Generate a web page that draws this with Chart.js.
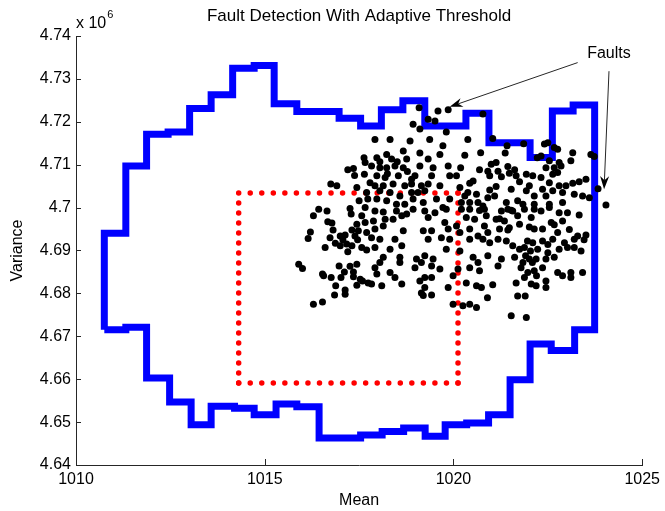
<!DOCTYPE html>
<html>
<head>
<meta charset="utf-8">
<script src="https://cdn.jsdelivr.net/npm/chart.js@4/dist/chart.umd.min.js"></script>
<style>
  html, body { margin: 0; padding: 0; background: #fff; }
</style>
</head>
<body>
<canvas id="graphCanvas" width="665" height="511"></canvas>
<script>
const FONT = '"Liberation Sans", Arial, Helvetica, sans-serif';

// axis ticks (variance in units of 10^6)
const xTicks = [1010, 1015, 1020, 1025];
const yTicks = [4.64, 4.65, 4.66, 4.67, 4.68, 4.69, 4.70, 4.71, 4.72, 4.73, 4.74];

// adaptive threshold boundary (mean, variance x 10^6)
const thresholdBoundary = [
    [1010.75, 4.6715], [1010.75, 4.6940], [1011.32, 4.6940], [1011.32, 4.7097], [1011.87, 4.7097],
    [1011.87, 4.7171], [1012.44, 4.7171], [1012.44, 4.7176], [1013.01, 4.7176], [1013.01, 4.7231],
    [1013.58, 4.7231], [1013.58, 4.7263], [1014.15, 4.7263], [1014.15, 4.7325], [1014.72, 4.7325],
    [1014.72, 4.7331], [1015.25, 4.7331], [1015.25, 4.7242], [1015.85, 4.7242], [1015.85, 4.7224],
    [1016.97, 4.7224], [1016.97, 4.7208], [1017.54, 4.7208], [1017.54, 4.7190], [1018.09, 4.7190],
    [1018.09, 4.7228], [1018.66, 4.7228], [1018.66, 4.7249], [1019.24, 4.7249], [1019.24, 4.7190],
    [1020.33, 4.7190], [1020.33, 4.7220], [1020.94, 4.7220], [1020.94, 4.7151], [1022.03, 4.7151],
    [1022.03, 4.7117], [1022.62, 4.7117], [1022.62, 4.7225], [1023.17, 4.7225], [1023.17, 4.7239],
    [1023.74, 4.7239], [1023.74, 4.6715], [1023.21, 4.6715], [1023.21, 4.6667], [1022.59, 4.6667],
    [1022.59, 4.6682], [1022.03, 4.6682], [1022.03, 4.6599], [1021.50, 4.6599], [1021.50, 4.6517],
    [1020.93, 4.6517], [1020.93, 4.6498], [1020.35, 4.6498], [1020.35, 4.6494], [1019.78, 4.6494],
    [1019.78, 4.6467], [1019.25, 4.6467], [1019.25, 4.6486], [1018.68, 4.6486], [1018.68, 4.6478],
    [1018.11, 4.6478], [1018.11, 4.6470], [1017.54, 4.6470], [1017.54, 4.6463], [1016.44, 4.6463],
    [1016.44, 4.6536], [1015.85, 4.6536], [1015.85, 4.6542], [1015.30, 4.6542], [1015.30, 4.6517],
    [1014.72, 4.6517], [1014.72, 4.6532], [1014.20, 4.6532], [1014.20, 4.6537], [1013.58, 4.6537],
    [1013.58, 4.6494], [1013.05, 4.6494], [1013.05, 4.6547], [1012.48, 4.6547], [1012.48, 4.6603],
    [1011.87, 4.6603], [1011.87, 4.6721], [1011.32, 4.6721], [1011.32, 4.6715], [1010.75, 4.6715]
];

// nominal (fixed) threshold box
const nominalBox = [
    [1014.31, 4.7034], [1020.12, 4.7034], [1020.12, 4.6591], [1014.31, 4.6591], [1014.31, 4.7034]
];

// measured samples (mean, variance x 10^6)
const samples = [
    [1017.63, 4.7116], [1017.66, 4.7105], [1017.20, 4.7088], [1017.35, 4.7091], [1017.38, 4.7075],
    [1017.64, 4.7078], [1016.75, 4.7055], [1016.91, 4.7051], [1017.44, 4.7047], [1017.70, 4.7035],
    [1017.50, 4.7016], [1017.73, 4.7020], [1016.43, 4.6996], [1016.65, 4.6992], [1017.26, 4.6998],
    [1017.66, 4.7000], [1016.29, 4.6981], [1017.29, 4.6985], [1017.57, 4.6981], [1016.67, 4.6967],
    [1016.78, 4.6964], [1017.44, 4.6961], [1017.66, 4.6965], [1017.31, 4.6948], [1016.21, 4.6943],
    [1017.48, 4.6946], [1017.70, 4.6942], [1016.15, 4.6928], [1016.73, 4.6930], [1017.00, 4.6934],
    [1017.13, 4.6936], [1017.39, 4.6934], [1016.87, 4.6917], [1017.00, 4.6911], [1017.17, 4.6915],
    [1017.31, 4.6911], [1016.60, 4.6907], [1017.57, 4.6907], [1017.70, 4.6901], [1015.90, 4.6868],
    [1016.00, 4.6858], [1016.97, 4.6864], [1017.26, 4.6863], [1017.44, 4.6868], [1016.53, 4.6845],
    [1016.56, 4.6841], [1017.11, 4.6850], [1017.35, 4.6850], [1016.76, 4.6837], [1017.02, 4.6837],
    [1017.35, 4.6839], [1017.53, 4.6833], [1017.59, 4.6829], [1016.88, 4.6818], [1017.44, 4.6819],
    [1017.13, 4.6808], [1016.85, 4.6796], [1017.13, 4.6798], [1016.53, 4.6780], [1016.29, 4.6775],
    [1017.74, 4.6824], [1016.81, 4.6948], [1017.07, 4.6925], [1017.46, 4.6925], [1017.20, 4.6897],
    [1019.09, 4.7233], [1019.59, 4.7225], [1019.86, 4.7228], [1019.33, 4.7206], [1019.51, 4.7202],
    [1018.93, 4.7194], [1019.11, 4.7183], [1019.81, 4.7176], [1017.92, 4.7159], [1018.32, 4.7159],
    [1018.85, 4.7155], [1019.72, 4.7144], [1019.37, 4.7159], [1019.11, 4.7127], [1018.67, 4.7132],
    [1017.97, 4.7116], [1018.23, 4.7124], [1018.36, 4.7113], [1018.76, 4.7113], [1019.33, 4.7113],
    [1019.64, 4.7124], [1019.86, 4.7097], [1018.05, 4.7093], [1018.23, 4.7093], [1018.45, 4.7097],
    [1018.67, 4.7093], [1019.11, 4.7097], [1019.46, 4.7093], [1017.97, 4.7074], [1018.19, 4.7070],
    [1018.54, 4.7074], [1018.89, 4.7066], [1019.42, 4.7074], [1019.90, 4.7074], [1017.92, 4.7051],
    [1018.14, 4.7051], [1018.40, 4.7055], [1018.71, 4.7051], [1018.89, 4.7055], [1019.15, 4.7051],
    [1019.33, 4.7055], [1019.64, 4.7051], [1018.32, 4.7035], [1018.89, 4.7035], [1019.06, 4.7035],
    [1017.97, 4.7020], [1018.23, 4.7016], [1018.49, 4.7008], [1018.71, 4.7008], [1018.93, 4.7020],
    [1019.20, 4.7012], [1019.55, 4.7020], [1019.90, 4.7020], [1018.93, 4.6996], [1019.72, 4.7000],
    [1017.83, 4.7097], [1018.05, 4.7107], [1018.25, 4.7079], [1018.51, 4.7107], [1018.78, 4.7084],
    [1018.98, 4.7074], [1019.24, 4.7039], [1018.58, 4.7027], [1018.05, 4.7039], [1017.79, 4.7058],
    [1017.92, 4.6992], [1018.14, 4.6990], [1018.49, 4.6992], [1018.76, 4.6985], [1019.24, 4.6992],
    [1019.51, 4.6988], [1019.81, 4.6996], [1017.88, 4.6969], [1018.19, 4.6973], [1018.40, 4.6973],
    [1018.63, 4.6981], [1019.33, 4.6977], [1019.77, 4.6965], [1017.92, 4.6950], [1018.14, 4.6957],
    [1018.67, 4.6946], [1019.20, 4.6946], [1019.42, 4.6946], [1019.86, 4.6950], [1017.83, 4.6930],
    [1018.05, 4.6926], [1018.45, 4.6926], [1019.33, 4.6926], [1019.68, 4.6930], [1019.90, 4.6926],
    [1017.92, 4.6907], [1018.32, 4.6903], [1018.63, 4.6911], [1019.81, 4.6903], [1018.14, 4.6884],
    [1018.58, 4.6884], [1019.02, 4.6880], [1019.24, 4.6888], [1019.46, 4.6880], [1018.05, 4.6872],
    [1018.58, 4.6872], [1019.15, 4.6872], [1017.92, 4.6860], [1018.98, 4.6860], [1019.42, 4.6864],
    [1019.64, 4.6857], [1017.97, 4.6845], [1018.32, 4.6849], [1018.45, 4.6837], [1019.24, 4.6837],
    [1019.42, 4.6837], [1019.99, 4.6841], [1017.83, 4.6822], [1018.10, 4.6818], [1018.63, 4.6822],
    [1019.11, 4.6829], [1019.24, 4.6814], [1019.86, 4.6814], [1019.15, 4.6801], [1019.20, 4.6795],
    [1019.42, 4.6796], [1019.99, 4.6775],
    [1020.78, 4.7218], [1021.04, 4.7161], [1021.42, 4.7144], [1021.86, 4.7149], [1022.22, 4.7116],
    [1020.38, 4.7159], [1020.72, 4.7128], [1020.30, 4.7122], [1021.37, 4.7127], [1020.19, 4.7093],
    [1021.00, 4.7101], [1021.13, 4.7105], [1020.69, 4.7088], [1020.91, 4.7085], [1021.18, 4.7085],
    [1021.44, 4.7096], [1021.62, 4.7088], [1021.93, 4.7078], [1022.10, 4.7074], [1020.08, 4.7074],
    [1020.52, 4.7062], [1020.43, 4.7057], [1020.96, 4.7074], [1021.27, 4.7072], [1021.48, 4.7080],
    [1021.66, 4.7074], [1021.75, 4.7060], [1022.01, 4.7051], [1020.17, 4.7047], [1020.38, 4.7035],
    [1020.61, 4.7031], [1020.96, 4.7041], [1021.13, 4.7049], [1021.53, 4.7043], [1021.93, 4.7039],
    [1022.14, 4.7027], [1020.21, 4.7012], [1020.43, 4.7012], [1020.65, 4.7012], [1020.91, 4.7023],
    [1021.40, 4.7012], [1021.70, 4.7016], [1021.84, 4.7008], [1022.14, 4.7008], [1020.43, 4.6996],
    [1020.82, 4.6996], [1021.44, 4.6996], [1021.88, 4.6996], [1020.21, 4.6996], [1020.69, 4.6993],
    [1021.27, 4.6992], [1021.53, 4.6994], [1022.14, 4.6996], [1020.34, 4.6977], [1020.56, 4.6973],
    [1020.87, 4.6981], [1021.13, 4.6973], [1021.35, 4.6969], [1021.70, 4.6981], [1022.06, 4.6977],
    [1020.08, 4.6957], [1020.43, 4.6950], [1020.82, 4.6957], [1020.91, 4.6942], [1021.22, 4.6950],
    [1021.48, 4.6953], [1021.75, 4.6961], [1022.14, 4.6950], [1020.17, 4.6942], [1020.65, 4.6934],
    [1020.78, 4.6926], [1020.96, 4.6918], [1021.18, 4.6926], [1021.40, 4.6922], [1021.57, 4.6911],
    [1021.88, 4.6907], [1022.10, 4.6918], [1022.23, 4.6903], [1020.17, 4.6899], [1020.52, 4.6884],
    [1020.65, 4.6872], [1020.91, 4.6888], [1021.27, 4.6880], [1021.62, 4.6884], [1021.84, 4.6872],
    [1022.01, 4.6880], [1022.19, 4.6880], [1020.12, 4.6857], [1020.43, 4.6860], [1020.69, 4.6853],
    [1021.18, 4.6864], [1021.79, 4.6860], [1021.97, 4.6849], [1022.14, 4.6853], [1021.88, 4.6837],
    [1020.34, 4.6824], [1020.61, 4.6818], [1020.74, 4.6814], [1021.04, 4.6820], [1021.66, 4.6824],
    [1022.06, 4.6822], [1022.19, 4.6818], [1020.90, 4.6790], [1021.70, 4.6794], [1021.90, 4.6794],
    [1020.25, 4.6771], [1020.43, 4.6775], [1020.61, 4.6767], [1021.53, 4.6748], [1021.93, 4.6744],
    [1021.96, 4.6922], [1022.04, 4.6899], [1021.91, 4.6888], [1022.09, 4.6872], [1022.20, 4.6841],
    [1021.75, 4.6903], [1022.01, 4.6955], [1020.30, 4.7027], [1020.78, 4.7004], [1021.09, 4.7027],
    [1021.57, 4.6992], [1021.22, 4.6974], [1020.43, 4.6926], [1021.44, 4.6948],
    [1022.41, 4.7148], [1022.50, 4.7151], [1022.67, 4.7140], [1022.76, 4.7136], [1022.32, 4.7120],
    [1023.16, 4.7128], [1023.64, 4.7124], [1023.73, 4.7119], [1022.54, 4.7109], [1022.80, 4.7105],
    [1023.11, 4.7109], [1022.45, 4.7093], [1022.67, 4.7093], [1022.85, 4.7097], [1022.32, 4.7070],
    [1022.63, 4.7078], [1022.76, 4.7082], [1022.54, 4.7058], [1022.80, 4.7051], [1022.98, 4.7051],
    [1023.16, 4.7057], [1023.33, 4.7060], [1023.51, 4.7066], [1022.36, 4.7043], [1022.63, 4.7039],
    [1022.89, 4.7035], [1023.20, 4.7031], [1023.42, 4.7027], [1023.60, 4.7023], [1023.83, 4.7044],
    [1022.45, 4.7027], [1022.54, 4.7008], [1022.89, 4.7012], [1024.04, 4.7006],
    [1022.32, 4.6992], [1022.54, 4.7000], [1022.80, 4.6988], [1023.02, 4.6988], [1022.59, 4.6965],
    [1022.89, 4.6969], [1022.36, 4.6950], [1022.76, 4.6942], [1022.63, 4.6926], [1022.36, 4.6922],
    [1022.94, 4.6918], [1023.20, 4.6926], [1023.29, 4.6934], [1023.51, 4.6936], [1022.80, 4.6903],
    [1023.02, 4.6907], [1023.20, 4.6907], [1023.38, 4.6899], [1022.50, 4.6895], [1022.45, 4.6880],
    [1022.67, 4.6884], [1022.36, 4.6860], [1022.76, 4.6849], [1022.89, 4.6841], [1023.11, 4.6849],
    [1023.11, 4.6837], [1023.42, 4.6849], [1022.45, 4.6829], [1022.45, 4.6814],
    [1022.67, 4.6960], [1023.07, 4.6949], [1022.50, 4.6914], [1023.33, 4.6983], [1023.46, 4.6925]
];

// "Faults" callout, in data coordinates
const faultLabel = { x: 1024.12, y: 4.7358, text: 'Faults' };
const faultArrows = [
    { from: [1023.29, 4.7338], to: [1019.90, 4.7235] },
    { from: [1024.12, 4.7318], to: [1023.99, 4.7043] }
];

const toPoints = arr => arr.map(([x, y]) => ({ x, y }));

// MATLAB style inward ticks, the x 10^6 exponent and the fault arrows
const overlay = {
    id: 'overlay',
    afterDraw(chart) {
        const { ctx, chartArea: area, scales: { x, y } } = chart;
        ctx.save();
        ctx.strokeStyle = '#262626';
        ctx.lineWidth = 1;
        ctx.beginPath();
        xTicks.forEach(v => {
            const px = Math.round(x.getPixelForValue(v)) + 0.5;
            ctx.moveTo(px, area.bottom);
            ctx.lineTo(px, area.bottom - 6);
        });
        yTicks.forEach(v => {
            const py = Math.round(y.getPixelForValue(v)) + 0.5;
            ctx.moveTo(area.left, py);
            ctx.lineTo(area.left + 5, py);
        });
        ctx.stroke();

        ctx.fillStyle = '#000';
        ctx.textAlign = 'left';
        ctx.textBaseline = 'alphabetic';
        ctx.font = '16px ' + FONT;
        ctx.fillText('x 10', area.left, area.top - 8);
        const w = ctx.measureText('x 10').width;
        ctx.font = '11px ' + FONT;
        ctx.fillText('6', area.left + w + 1, area.top - 18);

        ctx.font = '16px ' + FONT;
        ctx.textAlign = 'center';
        ctx.textBaseline = 'middle';
        ctx.fillText(faultLabel.text, x.getPixelForValue(faultLabel.x), y.getPixelForValue(faultLabel.y));

        faultArrows.forEach(a => {
            const x0 = x.getPixelForValue(a.from[0]), y0 = y.getPixelForValue(a.from[1]);
            const x1 = x.getPixelForValue(a.to[0]), y1 = y.getPixelForValue(a.to[1]);
            const len = Math.hypot(x1 - x0, y1 - y0);
            const ux = (x1 - x0) / len, uy = (y1 - y0) / len;
            const nx = -uy, ny = ux;
            const L = 13, W = 4.5, notch = 9;
            ctx.beginPath();
            ctx.moveTo(x0, y0);
            ctx.lineTo(x1 - ux * notch, y1 - uy * notch);
            ctx.stroke();
            ctx.beginPath();
            ctx.moveTo(x1, y1);
            ctx.lineTo(x1 - ux * L + nx * W, y1 - uy * L + ny * W);
            ctx.lineTo(x1 - ux * notch, y1 - uy * notch);
            ctx.lineTo(x1 - ux * L - nx * W, y1 - uy * L - ny * W);
            ctx.closePath();
            ctx.fill();
        });
        ctx.restore();
    }
};

const graphCanvas = document.getElementById('graphCanvas');
const chart = new Chart(graphCanvas.getContext('2d'), {
    type: 'scatter',
    data: {
        datasets: [
            {
                label: 'Samples',
                data: toPoints(samples),
                backgroundColor: '#000',
                borderWidth: 0,
                pointRadius: 3.5,
                order: 0
            },
            {
                label: 'Nominal threshold',
                data: toPoints(nominalBox),
                showLine: true,
                borderColor: '#ff0000',
                borderWidth: 5.5,
                borderCapStyle: 'round',
                pointRadius: 0,
                segment: {
                    // 19 dots along every side of the box
                    borderDash: c => [0, Math.max(Math.abs(c.p1.x - c.p0.x), Math.abs(c.p1.y - c.p0.y)) / 19]
                },
                order: 1
            },
            {
                label: 'Adaptive threshold',
                data: toPoints(thresholdBoundary),
                showLine: true,
                borderColor: '#0000ff',
                borderWidth: 7,
                borderJoinStyle: 'miter',
                pointRadius: 0,
                order: 2
            }
        ]
    },
    options: {
        responsive: false,
        animation: false,
        events: [],
        layout: { padding: { top: 0, right: 21, bottom: 0, left: 0 } },
        scales: {
            x: {
                type: 'linear',
                min: 1010,
                max: 1025,
                afterBuildTicks: s => { s.ticks = xTicks.map(v => ({ value: v })); },
                afterFit: s => { s.height = 46; },
                grid: { display: false, drawTicks: false },
                border: { display: true, color: '#262626', width: 1 },
                ticks: {
                    padding: 5,
                    color: '#000',
                    font: { family: FONT, size: 16 },
                    maxRotation: 0,
                    callback: v => String(v)
                },
                title: {
                    display: true,
                    text: 'Mean',
                    color: '#000',
                    font: { family: FONT, size: 16 },
                    padding: { top: 0, bottom: 1 }
                }
            },
            y: {
                type: 'linear',
                min: 4.64,
                max: 4.74,
                afterBuildTicks: s => { s.ticks = yTicks.map(v => ({ value: v })); },
                afterFit: s => { s.width = 76; },
                grid: { display: false, drawTicks: false },
                border: { display: true, color: '#262626', width: 1 },
                ticks: {
                    padding: 5,
                    color: '#000',
                    font: { family: FONT, size: 16 },
                    callback: v => String(Math.round(v * 100) / 100)
                },
                title: {
                    display: true,
                    text: 'Variance',
                    color: '#000',
                    font: { family: FONT, size: 16 },
                    padding: { top: 8, bottom: 0 }
                }
            }
        },
        plugins: {
            legend: { display: false },
            tooltip: { enabled: false },
            title: {
                display: true,
                fullSize: false,
                text: 'Fault Detection With Adaptive Threshold',
                color: '#000',
                font: { family: FONT, size: 17, weight: 'normal' },
                padding: { top: 6.5, bottom: 9.1 }
            }
        }
    },
    plugins: [overlay]
});
</script>
</body>
</html>
